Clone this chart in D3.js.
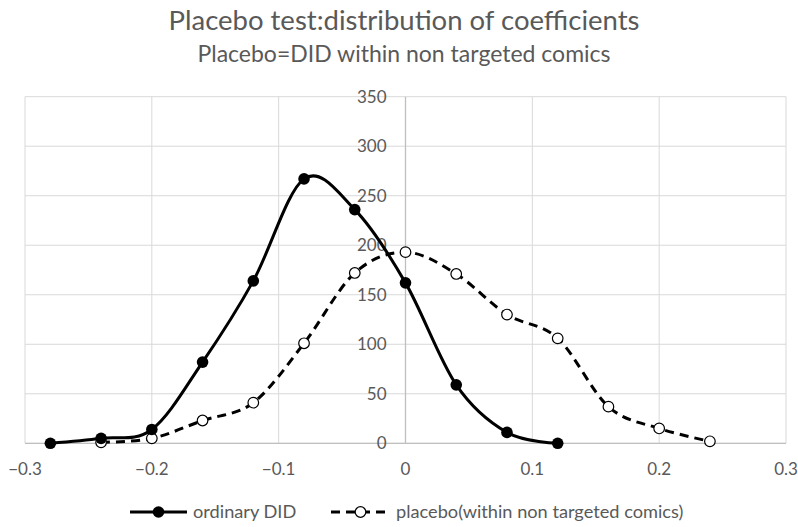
<!DOCTYPE html>
<html>
<head>
<meta charset="utf-8">
<script src="https://cdn.jsdelivr.net/npm/d3@7"></script>
<style>
  body { margin: 0; background: #fff; }
  svg { display: block; }
</style>
</head>
<body>
<div class="chart"></div>
<script>
// data
const ordinaryX = [-0.28, -0.24, -0.2, -0.16, -0.12, -0.08, -0.04, 0, 0.04, 0.08, 0.12];
const ordinaryY = [0, 5, 14, 82, 164, 267, 236, 162, 59, 11, 0];
const placeboX = [-0.24, -0.2, -0.16, -0.12, -0.08, -0.04, 0, 0.04, 0.08, 0.12, 0.16, 0.2, 0.24];
const placeboY = [1, 5, 23, 41, 101, 172, 193, 171, 130, 106, 37, 15, 2];
const xTicks = [-0.3, -0.2, -0.1, 0, 0.1, 0.2, 0.3];
const yTicks = [0, 50, 100, 150, 200, 250, 300, 350];
const seriesNames = ['ordinary DID', 'placebo(within non targeted comics)'];

const width = 798, height = 527;
const font = "Lato, 'Open Sans', sans-serif";
const textCol = '#595959';

const svg = d3.select('.chart').append('svg')
    .attr('width', width)
    .attr('height', height)
    .style('font-family', font);

const x = d3.scaleLinear().domain([-0.3, 0.3]).range([25, 786]);
const y = d3.scaleLinear().domain([0, 350]).range([443.3, 96.7]);

// titles
svg.append('text')
    .attr('x', 404).attr('y', 30)
    .attr('text-anchor', 'middle')
    .style('font-size', '27.5px').style('fill', textCol)
    .text('Placebo test:distribution of coefficients');
svg.append('text')
    .attr('x', 404).attr('y', 62)
    .attr('text-anchor', 'middle')
    .style('font-size', '23px').style('fill', textCol)
    .text('Placebo=DID within non targeted comics');

// gridlines
const grid = svg.append('g').attr('class', 'grid');
grid.selectAll('.hgrid')
    .data(yTicks)
    .enter().append('line')
    .attr('x1', x(-0.3)).attr('x2', x(0.3))
    .attr('y1', d => y(d)).attr('y2', d => y(d))
    .style('stroke', '#d9d9d9').style('stroke-width', 1);
grid.selectAll('.vgrid')
    .data(xTicks.filter(d => d !== 0))
    .enter().append('line')
    .attr('x1', d => x(d)).attr('x2', d => x(d))
    .attr('y1', y(0)).attr('y2', y(350))
    .style('stroke', '#d9d9d9').style('stroke-width', 1);

// axes
svg.append('line')
    .attr('x1', x(0)).attr('x2', x(0))
    .attr('y1', y(0)).attr('y2', y(350))
    .style('stroke', '#bfbfbf').style('stroke-width', 1.3);
svg.append('line')
    .attr('x1', x(-0.3)).attr('x2', x(0.3))
    .attr('y1', y(0)).attr('y2', y(0))
    .style('stroke', '#bfbfbf').style('stroke-width', 1.3);

svg.append('g')
    .selectAll('text')
    .data(yTicks)
    .enter().append('text')
    .attr('x', x(0) - 19)
    .attr('y', d => y(d))
    .attr('dy', '0.35em')
    .attr('text-anchor', 'end')
    .style('font-size', '17px').style('fill', textCol)
    .text(d => d);

svg.append('g')
    .selectAll('text')
    .data(xTicks)
    .enter().append('text')
    .attr('x', d => x(d))
    .attr('y', 469)
    .attr('dy', '0.35em')
    .attr('text-anchor', 'middle')
    .style('font-size', '17px').style('fill', textCol)
    .text(d => d3.format('')(+d.toFixed(1)));

// lines
const line = d3.line()
    .x(d => x(d[0]))
    .y(d => y(d[1]))
    .curve(d3.curveCatmullRom.alpha(0));

const ordinary = d3.zip(ordinaryX, ordinaryY);
const placebo = d3.zip(placeboX, placeboY);

const lines = svg.append('g').attr('class', 'lines');
lines.append('path')
    .attr('d', line(placebo))
    .style('fill', 'none').style('stroke', '#000')
    .style('stroke-width', 3).style('stroke-dasharray', '9,6');
lines.append('path')
    .attr('d', line(ordinary))
    .style('fill', 'none').style('stroke', '#000')
    .style('stroke-width', 3);

lines.selectAll('.pdot')
    .data(placebo)
    .enter().append('circle')
    .attr('cx', d => x(d[0])).attr('cy', d => y(d[1]))
    .attr('r', 5.3)
    .style('fill', '#fff').style('stroke', '#000').style('stroke-width', 1.2);
lines.selectAll('.odot')
    .data(ordinary)
    .enter().append('circle')
    .attr('cx', d => x(d[0])).attr('cy', d => y(d[1]))
    .attr('r', 5.8)
    .style('fill', '#000');

// legend
const legend = svg.append('g').attr('class', 'legend');
const legY = 512;
legend.append('line')
    .attr('x1', 130).attr('x2', 187).attr('y1', legY).attr('y2', legY)
    .style('stroke', '#000').style('stroke-width', 3);
legend.append('circle')
    .attr('cx', 158.5).attr('cy', legY).attr('r', 5.8).style('fill', '#000');
legend.append('text')
    .attr('x', 193).attr('y', legY).attr('dy', '0.35em')
    .style('font-size', '18.2px').style('fill', textCol)
    .text(seriesNames[0]);
legend.append('line')
    .attr('x1', 331).attr('x2', 390).attr('y1', legY).attr('y2', legY)
    .style('stroke', '#000').style('stroke-width', 3).style('stroke-dasharray', '9,6');
legend.append('circle')
    .attr('cx', 360.5).attr('cy', legY).attr('r', 5.3)
    .style('fill', '#fff').style('stroke', '#000').style('stroke-width', 1.2);
legend.append('text')
    .attr('x', 396).attr('y', legY).attr('dy', '0.35em')
    .style('font-size', '18.2px').style('fill', textCol)
    .text(seriesNames[1]);
</script>
</body>
</html>
